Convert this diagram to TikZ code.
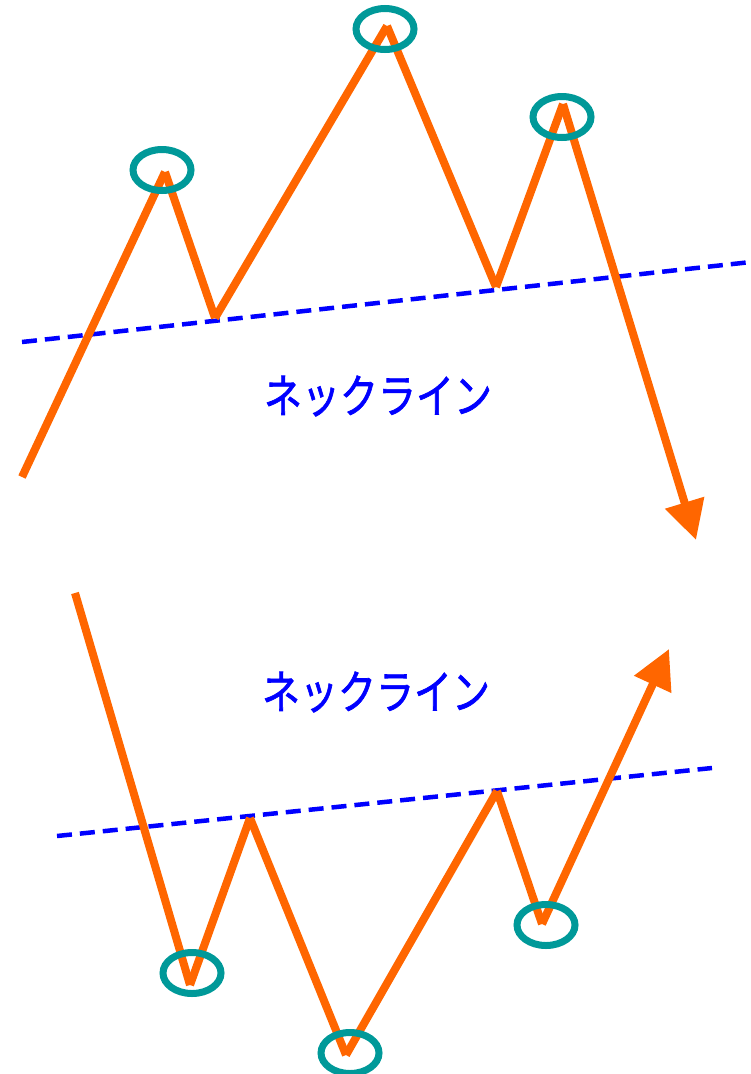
\documentclass[tikz,border=0pt]{standalone}
\usepackage{fontspec}
\usepackage{graphicx}
\newfontfamily\jpfont[FakeBold=1.5]{Noto Sans CJK JP}
\usetikzlibrary{arrows.meta,shapes.geometric}
\definecolor{zzorange}{HTML}{FF6600}
\definecolor{zzteal}{HTML}{009999}
\definecolor{zzblue}{HTML}{0000FF}
\newcommand{\zztall}[1]{\scalebox{1}[1.22]{#1}}
\tikzset{
  zigline/.style={draw=zzorange, line width=8pt, line cap=butt},
  neckline/.style={draw=zzblue, line width=4.5pt, dash pattern=on 15pt off 8pt},
  extremum/.style={draw=zzteal, line width=7pt, ellipse, minimum width=58pt, minimum height=41pt, inner sep=0pt},
  necklabel/.style={text=zzblue, font=\jpfont\fontsize{38pt}{40pt}\selectfont, inner sep=0pt},
  tip/.style={-{Triangle[length=39pt,width=39pt]}}
}
\begin{document}
\begin{tikzpicture}[x=1pt,y=-1pt]
\useasboundingbox (0,0) rectangle (751,1074);
% top pattern
\coordinate (a0) at (22,477);
\coordinate (a1) at (165,172);
\coordinate (a2) at (215,318);
\coordinate (a3) at (387,26);
\coordinate (a4) at (496,287);
\coordinate (a5) at (563,104);
\coordinate (a6) at (696,540);
\coordinate (n1s) at (22,342);
\coordinate (n1e) at (751,262);
\draw[neckline] (n1s) -- (n1e);
\draw[zigline] (a0) -- (a1);
\draw[zigline] (a1) -- (a2);
\draw[zigline] (a2) -- (a3);
\draw[zigline] (a3) -- (a4);
\draw[zigline] (a4) -- (a5);
\draw[zigline, tip] (a5) -- (a6);
\node[extremum] (e1) at (162,170) {};
\node[extremum] (e2) at (385,29) {};
\node[extremum] (e3) at (562,117) {};
\node[necklabel] (t1) at (378,396) {\zztall{ネックライン}};
% bottom pattern
\coordinate (b0) at (75,593);
\coordinate (b1) at (190,985);
\coordinate (b2) at (250,818);
\coordinate (b3) at (346,1055);
\coordinate (b4) at (497,791);
\coordinate (b5) at (542,924);
\coordinate (b6) at (669,649);
\coordinate (n2s) at (57,836);
\coordinate (n2e) at (712,768);
\draw[neckline] (n2s) -- (n2e);
\draw[zigline] (b0) -- (b1);
\draw[zigline] (b1) -- (b2);
\draw[zigline] (b2) -- (b3);
\draw[zigline] (b3) -- (b4);
\draw[zigline] (b4) -- (b5);
\draw[zigline, tip] (b5) -- (b6);
\node[extremum] (f1) at (192,973) {};
\node[extremum] (f2) at (350,1053) {};
\node[extremum] (f3) at (546,925) {};
\node[necklabel] (t2) at (376,692) {\zztall{ネックライン}};
\end{tikzpicture}
\end{document}
